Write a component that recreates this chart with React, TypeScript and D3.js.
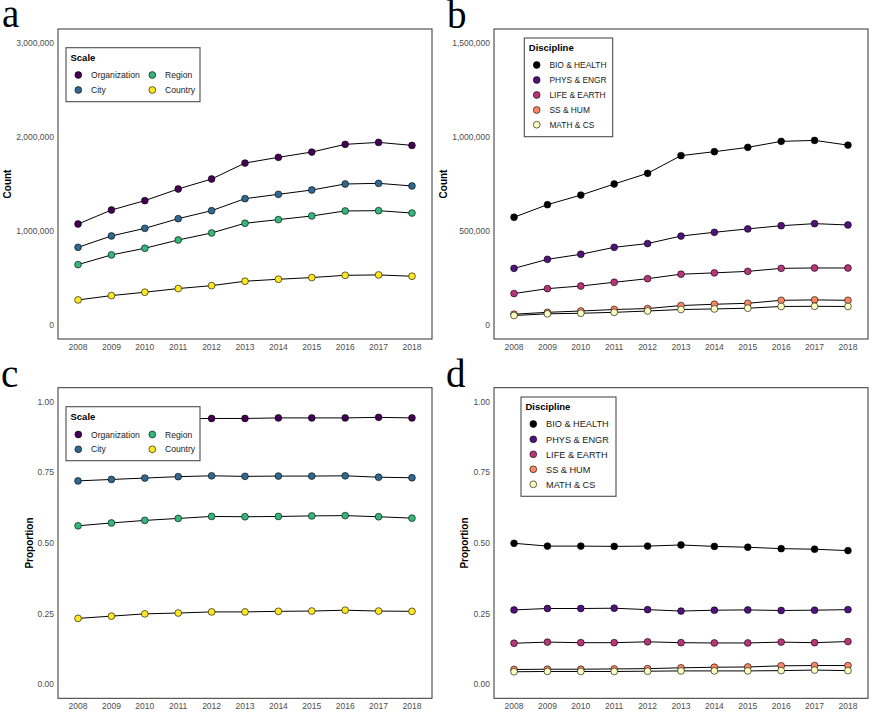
import React from "react";
import * as d3 from "d3";

const years = [2008, 2009, 2010, 2011, 2012, 2013, 2014, 2015, 2016, 2017, 2018];

const scaleNames = ["Organization", "City", "Region", "Country"];
const scaleColors = ["#440154", "#31688E", "#35B779", "#FDE725"];

const discNames = ["BIO & HEALTH", "PHYS & ENGR", "LIFE & EARTH", "SS & HUM", "MATH & CS"];
const discColors = ["#000004", "#51127C", "#B63679", "#FB8861", "#FCFDBF"];

// Panel a: counts by scale
const countOrganization = [1074000, 1223000, 1323000, 1447000, 1553000, 1723000, 1784000, 1840000, 1922000, 1943000, 1911000];
const countCity = [826000, 947000, 1028000, 1131000, 1216000, 1344000, 1390000, 1436000, 1500000, 1507000, 1479000];
const countRegion = [642000, 745000, 816000, 904000, 979000, 1082000, 1121000, 1160000, 1213000, 1216000, 1191000];
const countCountry = [266000, 312000, 348000, 387000, 418000, 465000, 486000, 504000, 528000, 532000, 518000];

// Panel b: counts by discipline
const countBio = [573000, 640000, 691000, 750000, 807000, 901000, 922000, 945000, 977000, 982000, 957000];
const countPhys = [301000, 349000, 376000, 413000, 433000, 473000, 493000, 511000, 528000, 539000, 532000];
const countLife = [167000, 193000, 207000, 227000, 246000, 270000, 277000, 285000, 301000, 303000, 303000];
const countSS = [57000, 67000, 74000, 82000, 87000, 103000, 110000, 115000, 131000, 133000, 131000];
const countMath = [50000, 59000, 62000, 67000, 74000, 82000, 85000, 89000, 98000, 99000, 98000];

// Panel c: proportions by scale
const propOrganization = [0.935, 0.937, 0.938, 0.94, 0.941, 0.941, 0.943, 0.943, 0.943, 0.945, 0.943];
const propCity = [0.72, 0.725, 0.73, 0.735, 0.738, 0.736, 0.737, 0.737, 0.738, 0.733, 0.731];
const propRegion = [0.561, 0.571, 0.58, 0.587, 0.594, 0.593, 0.594, 0.596, 0.597, 0.593, 0.588];
const propCountry = [0.233, 0.241, 0.249, 0.252, 0.256, 0.256, 0.258, 0.259, 0.262, 0.259, 0.258];

// Panel d: proportions by discipline
const propBio = [0.499, 0.489, 0.489, 0.488, 0.489, 0.493, 0.488, 0.485, 0.48, 0.478, 0.473];
const propPhys = [0.263, 0.268, 0.268, 0.269, 0.264, 0.259, 0.262, 0.263, 0.261, 0.262, 0.264];
const propLife = [0.145, 0.149, 0.147, 0.147, 0.15, 0.147, 0.146, 0.146, 0.149, 0.147, 0.151];
const propSS = [0.052, 0.053, 0.053, 0.054, 0.055, 0.058, 0.06, 0.061, 0.065, 0.066, 0.066];
const propMath = [0.044, 0.045, 0.045, 0.045, 0.046, 0.047, 0.047, 0.047, 0.048, 0.05, 0.048];

const countTicksA = [0, 1000000, 2000000, 3000000];
const countTicksB = [0, 500000, 1000000, 1500000];
const propTicks = [0, 0.25, 0.5, 0.75, 1.0];

const FONT = "'Liberation Sans', Arial, sans-serif";

type Series = { name: string; color: string; values: number[] };

type LegendCfg = {
  title: string;
  x: number;
  y: number;
  w: number;
  h: number;
  rows: number;
  colX: number[];
  rowY: number[];
  itemSize: number;
};

type PanelProps = {
  label: string;
  labelX: number;
  labelY: number;
  left: number;
  top: number;
  width: number;
  height: number;
  yMax: number;
  ticks: number[];
  fmt: (v: number) => string;
  yTitle: string;
  yTitleX: number;
  series: Series[];
  legend: LegendCfg;
};

function Panel(p: PanelProps) {
  const x = d3
    .scalePoint<number>()
    .domain(years)
    .range([p.left, p.left + p.width])
    .padding(0.6);
  const pad = p.yMax * 0.05;
  const y = d3
    .scaleLinear()
    .domain([-pad, p.yMax + pad])
    .range([p.top + p.height, p.top]);
  const line = d3
    .line<number>()
    .x((_, i) => x(years[i]) as number)
    .y((v) => y(v));
  const lg = p.legend;
  return (
    <g>
      <text x={p.labelX} y={p.labelY} fontFamily="'Liberation Serif', 'Times New Roman', serif" fontSize={39} fill="#000">
        {p.label}
      </text>
      <rect x={p.left} y={p.top} width={p.width} height={p.height} fill="#fff" stroke="#333" strokeWidth={1} />
      {p.ticks.map((t) => (
        <text key={t} x={p.left - 4} y={y(t)} dy="0.35em" textAnchor="end" fontFamily={FONT} fontSize={8.5} fill="#4d4d4d">
          {p.fmt(t)}
        </text>
      ))}
      {years.map((yr) => (
        <text key={yr} x={x(yr)} y={p.top + p.height + 8} dy="0.35em" textAnchor="middle" fontFamily={FONT} fontSize={8.5} fill="#4d4d4d">
          {yr}
        </text>
      ))}
      <text
        transform={`translate(${p.yTitleX},${p.top + p.height / 2}) rotate(-90)`}
        textAnchor="middle"
        dy="0.35em"
        fontFamily={FONT}
        fontSize={10}
        fontWeight="bold"
        fill="#000"
      >
        {p.yTitle}
      </text>
      {p.series.map((s) => (
        <path key={s.name + "l"} d={line(s.values) || ""} fill="none" stroke="#000" strokeWidth={1} />
      ))}
      {p.series.map((s) =>
        s.values.map((v, i) => (
          <circle key={s.name + i} cx={x(years[i])} cy={y(v)} r={3.4} fill={s.color} stroke="#000" strokeWidth={0.6} />
        ))
      )}
      <rect x={lg.x} y={lg.y} width={lg.w} height={lg.h} fill="#fff" stroke="#4d4d4d" strokeWidth={1.1} />
      <text x={lg.x + 4.5} y={lg.y + 9.5} dy="0.35em" fontFamily={FONT} fontSize={9.5} fontWeight="bold" fill="#000">
        {lg.title}
      </text>
      {p.series.map((s, i) => {
        const cx = lg.colX[Math.floor(i / lg.rows)];
        const cy = lg.rowY[i % lg.rows];
        return (
          <g key={s.name + "lg"}>
            <circle cx={cx} cy={cy} r={3.4} fill={s.color} stroke="#000" strokeWidth={0.6} />
            <text x={cx + 12.7} y={cy} dy="0.35em" fontFamily={FONT} fontSize={lg.itemSize} fill="#1a1a1a">
              {s.name}
            </text>
          </g>
        );
      })}
    </g>
  );
}

const commaFmt = d3.format(",");
const propFmt = d3.format(".2f");

export default function App() {
  const scaleCount: Series[] = [countOrganization, countCity, countRegion, countCountry].map((v, i) => ({
    name: scaleNames[i],
    color: scaleColors[i],
    values: v,
  }));
  const scaleProp: Series[] = [propOrganization, propCity, propRegion, propCountry].map((v, i) => ({
    name: scaleNames[i],
    color: scaleColors[i],
    values: v,
  }));
  const discCount: Series[] = [countBio, countPhys, countLife, countSS, countMath].map((v, i) => ({
    name: discNames[i],
    color: discColors[i],
    values: v,
  }));
  const discProp: Series[] = [propBio, propPhys, propLife, propSS, propMath].map((v, i) => ({
    name: discNames[i],
    color: discColors[i],
    values: v,
  }));
  return (
    <svg
      width={872}
      height={722}
      viewBox="0 0 872 722"
      style={{ position: "absolute", left: 0, top: 0, background: "#fff" }}
    >
      <rect width={872} height={722} fill="#fff" />
      <Panel
        label="a"
        labelX={2}
        labelY={27}
        left={58}
        top={29}
        width={374}
        height={310}
        yMax={3000000}
        ticks={countTicksA}
        fmt={commaFmt}
        yTitle="Count"
        yTitleX={7.5}
        series={scaleCount}
        legend={{ title: "Scale", x: 66, y: 47.7, w: 134, h: 54, rows: 2, colX: [78.3, 152.3], rowY: [75, 90], itemSize: 8.6 }}
      />
      <Panel
        label="b"
        labelX={447}
        labelY={27.5}
        left={494}
        top={29}
        width={374}
        height={310}
        yMax={1500000}
        ticks={countTicksB}
        fmt={commaFmt}
        yTitle="Count"
        yTitleX={443.5}
        series={discCount}
        legend={{ title: "Discipline", x: 524.3, y: 38, w: 88.4, h: 98.7, rows: 5, colX: [536.7], rowY: [65, 80, 95, 110, 124.7], itemSize: 8.4 }}
      />
      <Panel
        label="c"
        labelX={1}
        labelY={386.5}
        left={58}
        top={387.7}
        width={374}
        height={310.6}
        yMax={1}
        ticks={propTicks}
        fmt={propFmt}
        yTitle="Proportion"
        yTitleX={29.5}
        series={scaleProp}
        legend={{ title: "Scale", x: 66, y: 406.7, w: 134, h: 54, rows: 2, colX: [78.3, 152.3], rowY: [434.5, 449.3], itemSize: 8.6 }}
      />
      <Panel
        label="d"
        labelX={446}
        labelY={387}
        left={494}
        top={387.7}
        width={374}
        height={310.6}
        yMax={1}
        ticks={propTicks}
        fmt={propFmt}
        yTitle="Proportion"
        yTitleX={464.5}
        series={discProp}
        legend={{ title: "Discipline", x: 521, y: 397, w: 95, h: 99.3, rows: 5, colX: [533.3], rowY: [424, 439.3, 454.3, 469.3, 484.3], itemSize: 9.2 }}
      />
    </svg>
  );
}
